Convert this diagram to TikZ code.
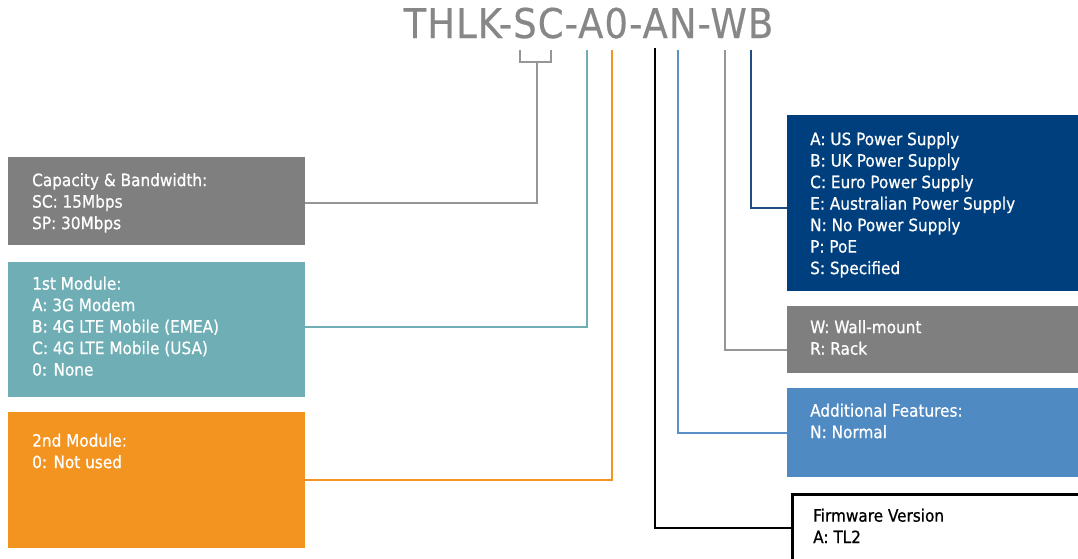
\documentclass[tikz,border=0pt]{standalone}
\usepackage{fontspec}
\setmainfont{DejaVu Sans Condensed}[FakeBold=0.7]
\newfontfamily\titlefont{DejaVu Sans Condensed}[LetterSpace=2.7,FakeBold=0.5]
\definecolor{titlegray}{RGB}{135,135,135}
\definecolor{capgray}{RGB}{127,127,127}
\definecolor{modteal}{RGB}{111,174,181}
\definecolor{modorange}{RGB}{243,148,32}
\definecolor{pownavy}{RGB}{0,63,125}
\definecolor{featblue}{RGB}{79,138,194}
\definecolor{linegray}{RGB}{150,150,150}
\definecolor{lineblue}{RGB}{91,143,199}
\definecolor{linenavy}{RGB}{31,78,133}
\tikzset{
  box/.style={anchor=north west,inner sep=0pt,minimum width=297pt},
  txt/.style={anchor=north west,inner sep=0pt,align=left,text=white,font=\fontsize{17}{21.5}\selectfont},
  link/.style={line width=2pt}
}

\begin{document}
\begin{tikzpicture}[x=1pt,y=-1pt]
\useasboundingbox (0,0) rectangle (1078,558);
\node[anchor=base,text=titlegray,font=\titlefont\fontsize{41}{41}\selectfont] (code) at (588.5,38) {THLK-SC-A0-AN-WB};
\coordinate (scL) at (520,50);
\coordinate (scR) at (551,50);
\coordinate (scM) at (536.5,62);
\coordinate (aTop) at (587,50);
\coordinate (zTop) at (612,50);
\coordinate (fwTop) at (655,48);
\coordinate (nTop) at (678,50);
\coordinate (wTop) at (725,50);
\coordinate (bTop) at (751,50);
\node[box,fill=capgray,minimum height=88pt] (cap) at (8,157) {};
\node[box,fill=modteal,minimum height=135pt] (mod1) at (8,262) {};
\node[box,fill=modorange,minimum height=136pt] (mod2) at (8,412) {};
\node[box,fill=pownavy,minimum height=176pt,minimum width=295pt] (power) at (787,115) {};
\node[box,fill=capgray,minimum height=67pt,minimum width=295pt] (mount) at (787,306) {};
\node[box,fill=featblue,minimum height=89pt,minimum width=295pt] (feat) at (787,388) {};
\node[box,draw=black,fill=white,line width=2.5pt,minimum height=68pt,minimum width=295pt] (fw) at (791,493) {};
\draw[link,linegray] (scL) -- ++(0,12) -| (scR);
\draw[link,linegray] (scM) |- ([yshift=-2pt]cap.east);
\draw[link,modteal] (aTop) |- ([yshift=2.5pt]mod1.east);
\draw[link,modorange] (zTop) |- (mod2.east);
\draw[link,black] (fwTop) |- (fw.west);
\draw[link,lineblue] (nTop) |- (feat.west);
\draw[link,linegray] (wTop) |- ([yshift=-10pt]mount.west);
\draw[link,linenavy] (bTop) |- ([yshift=-5pt]power.west);
\node[txt] (captxt) at (32,173) {Capacity \& Bandwidth:\\SC: 15Mbps\\SP: 30Mbps};
\node[txt] (mod1txt) at (32,276.5) {1st Module:\\A: 3G Modem\\B: 4G LTE Mobile (EMEA)\\C: 4G LTE Mobile (USA)\\0: None};
\node[txt] (mod2txt) at (32,433.5) {2nd Module:\\0: Not used};
\node[txt] (powertxt) at (810,132) {A: US Power Supply\\B: UK Power Supply\\C: Euro Power Supply\\E: Australian Power Supply\\N: No Power Supply\\P: PoE\\S: Specified};
\node[txt] (mounttxt) at (810,320) {W: Wall-mount\\R: Rack};
\node[txt] (feattxt) at (810,403.5) {Additional Features:\\N: Normal};
\node[txt,text=black] (fwtxt) at (813,508.5) {Firmware Version\\A: TL2};
\end{tikzpicture}
\end{document}
